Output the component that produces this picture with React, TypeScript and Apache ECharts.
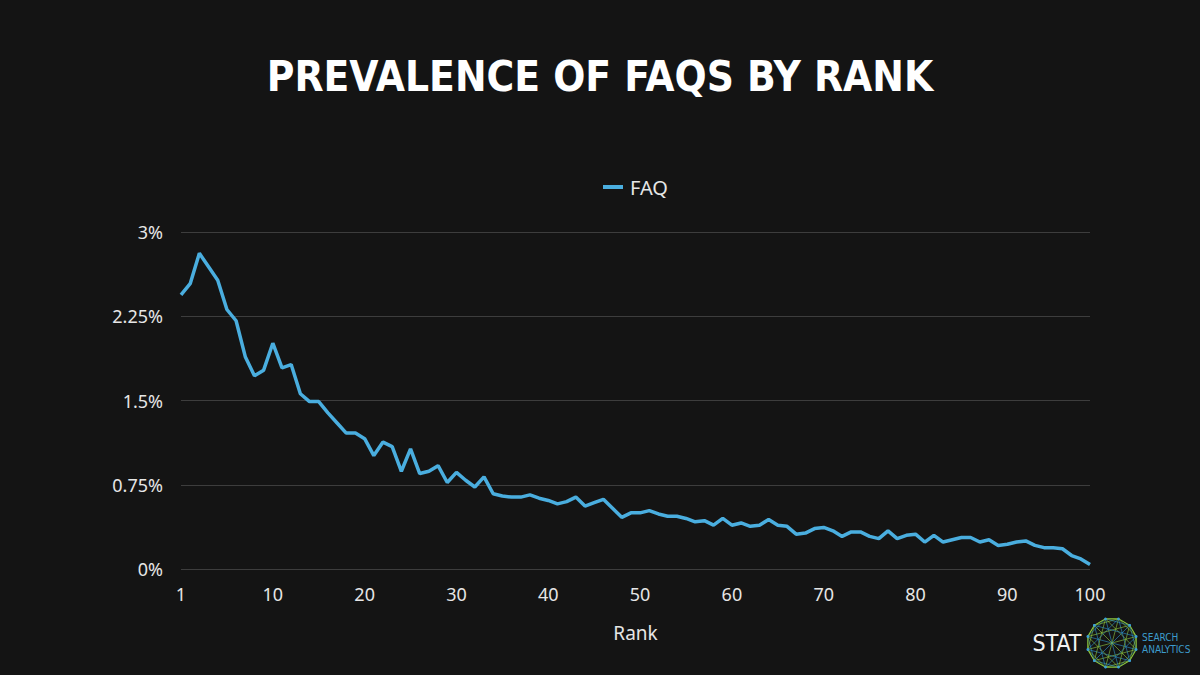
import React, { useEffect, useRef } from "react";
import * as echarts from "echarts";

const ranks: string[] = Array.from({ length: 100 }, (_, i) => String(i + 1));
const faqValues: number[] = [
  2.44, 2.54, 2.81, 2.69, 2.57, 2.31, 2.21, 1.89, 1.72, 1.77,
  2.01, 1.79, 1.82, 1.56, 1.49, 1.49, 1.39, 1.30, 1.21, 1.21,
  1.16, 1.01, 1.13, 1.09, 0.87, 1.07, 0.85, 0.87, 0.92, 0.77,
  0.86, 0.79, 0.73, 0.82, 0.67, 0.65, 0.64, 0.64, 0.66, 0.63,
  0.61, 0.58, 0.60, 0.64, 0.56, 0.59, 0.62, 0.54, 0.46, 0.50,
  0.50, 0.52, 0.49, 0.47, 0.47, 0.45, 0.42, 0.43, 0.39, 0.45,
  0.39, 0.41, 0.38, 0.39, 0.44, 0.39, 0.38, 0.31, 0.32, 0.36,
  0.37, 0.34, 0.29, 0.33, 0.33, 0.29, 0.27, 0.34, 0.27, 0.30,
  0.31, 0.24, 0.30, 0.24, 0.26, 0.28, 0.28, 0.24, 0.26, 0.21,
  0.22, 0.24, 0.25, 0.21, 0.19, 0.19, 0.18, 0.12, 0.09, 0.04,
];
const yTicks: number[] = [0, 0.75, 1.5, 2.25, 3];
// x tick labels as they appear in the reference, keyed by category index
const xTickIndex: number[] = [0, 10, 20, 30, 40, 50, 60, 70, 80, 90, 99];
const xTickLabels: string[] = ["1", "10", "20", "30", "40", "50", "60", "70", "80", "90", "100"];

const BG = "#141414";
const TEXT = "#e6e6e6";
const LINE = "#4aaedf";
const FONT = "'Noto Sans', sans-serif";

function logoGraphic() {
  const cx = 1112, cy = 643, r = 25, n = 12;
  const pts: number[][] = [];
  for (let i = 0; i < n; i++) {
    const a = (Math.PI * 2 * i) / n + Math.PI / n;
    pts.push([cx + r * Math.cos(a), cy + r * Math.sin(a)]);
  }
  const children: any[] = [];
  for (let i = 0; i < n; i++) {
    for (let j = i + 2; j < n; j += 2) {
      children.push({
        type: "line",
        shape: { x1: pts[i][0], y1: pts[i][1], x2: pts[j][0], y2: pts[j][1] },
        style: { stroke: (i + j) % 4 === 0 ? "#8cc63f" : "#2f8fc4", lineWidth: 0.7, opacity: 0.9 },
        silent: true,
      });
    }
  }
  children.push({
    type: "polygon",
    shape: { points: pts },
    style: { fill: "none", stroke: "#8cc63f", lineWidth: 1.2 },
    silent: true,
  });
  pts.forEach((p) =>
    children.push({ type: "circle", shape: { cx: p[0], cy: p[1], r: 1.4 }, style: { fill: "#3aa0d8" }, silent: true })
  );
  children.push({
    type: "text",
    x: 1057,
    y: 643,
    style: { text: "STAT", fill: "#f2f2f2", font: "23px 'DejaVu Sans Condensed', sans-serif", align: "center", verticalAlign: "middle" },
  });
  children.push({
    type: "text",
    x: 1142,
    y: 637,
    style: { text: "SEARCH", fill: "#3d9ccc", font: "10px 'DejaVu Sans Condensed', sans-serif", align: "left", verticalAlign: "middle" },
  });
  children.push({
    type: "text",
    x: 1142,
    y: 649,
    style: { text: "ANALYTICS", fill: "#3d9ccc", font: "10px 'DejaVu Sans Condensed', sans-serif", align: "left", verticalAlign: "middle" },
  });
  return { type: "group", children };
}

export default function App() {
  const ref = useRef<HTMLDivElement>(null);
  useEffect(() => {
    document.body.style.margin = "0";
    document.body.style.background = BG;
    const chart = echarts.init(ref.current!, null, { renderer: "svg" });
    chart.setOption({
      animation: false,
      backgroundColor: BG,
      title: {
        text: "PREVALENCE OF FAQS BY RANK",
        left: "center",
        top: 50,
        textStyle: {
          color: "#ffffff",
          fontFamily: "'DejaVu Sans Condensed', sans-serif",
          fontWeight: "bold",
          fontSize: 42,
        },
      },
      legend: {
        data: [{ name: "FAQ", icon: "rect" }],
        top: 172,
        left: 598,
        itemWidth: 20,
        itemHeight: 4,
        itemGap: 10,
        textStyle: { color: TEXT, fontSize: 20, fontFamily: FONT, padding: [0, 0, 0, 2] },
      },
      grid: { left: 181, right: 110, top: 232, bottom: 106, containLabel: false },
      xAxis: {
        type: "category",
        data: ranks,
        boundaryGap: false,
        name: "Rank",
        nameLocation: "middle",
        nameGap: 54,
        nameTextStyle: { color: TEXT, fontSize: 19, fontFamily: FONT },
        axisLine: { show: false },
        axisTick: { show: false },
        splitLine: { show: false },
        axisLabel: {
          color: TEXT,
          fontSize: 18,
          fontFamily: FONT,
          margin: 16,
          interval: (idx: number) => xTickIndex.includes(idx),
          formatter: (_v: string, idx: number) => {
            const k = xTickIndex.indexOf(idx);
            return k >= 0 ? xTickLabels[k] : "";
          },
        },
      },
      yAxis: {
        type: "value",
        min: 0,
        max: 3,
        interval: 0.75,
        axisLine: { show: false },
        axisTick: { show: false },
        splitLine: { lineStyle: { color: "#3d3d3d", width: 1 } },
        axisLabel: {
          color: TEXT,
          fontSize: 18,
          fontFamily: FONT,
          margin: 18,
          formatter: (v: number) => (yTicks.includes(v) ? `${v}%` : ""),
        },
      },
      series: [
        {
          name: "FAQ",
          type: "line",
          data: faqValues,
          showSymbol: false,
          symbol: "none",
          lineStyle: { color: LINE, width: 3.5 },
          itemStyle: { color: LINE },
        },
      ],
      graphic: [logoGraphic()],
    });
    return () => chart.dispose();
  }, []);
  return <div ref={ref} style={{ width: 1200, height: 675 }} />;
}
